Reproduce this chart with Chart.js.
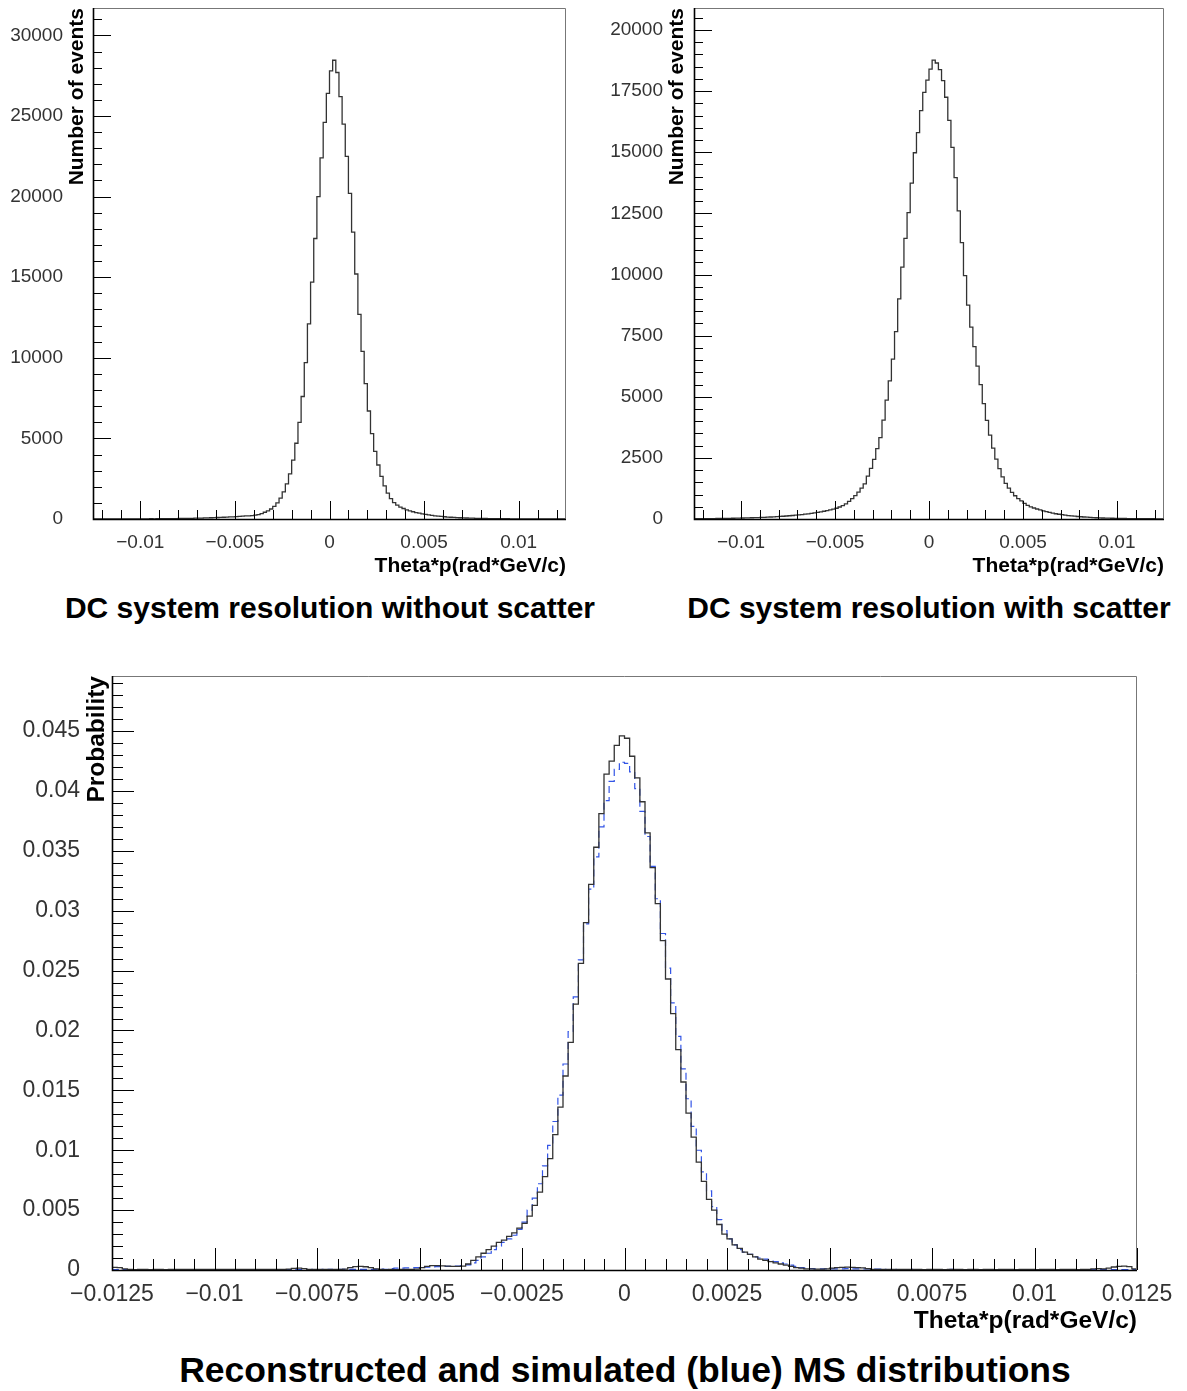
<!DOCTYPE html>
<html>
<head>
<meta charset="utf-8">
<script src="https://cdn.jsdelivr.net/npm/chart.js@4.4.1/dist/chart.umd.min.js"></script>
<style>
  body { margin: 0; background: #fff; width: 1187px; height: 1391px; position: relative; overflow: hidden; }
  .box { position: absolute; }
  .title { position: absolute; transform: translateX(-50%); white-space: nowrap;
           font-family: 'Liberation Sans', Arial, sans-serif; font-weight: bold; color: #000; }
</style>
</head>
<body>
<div class="box" style="left:0;top:0;width:590px;height:579px"><canvas id="chart-noscatter"></canvas></div>
<div class="box" style="left:597px;top:0;width:590px;height:579px"><canvas id="chart-scatter"></canvas></div>
<div class="box" style="left:0;top:640px;width:1187px;height:696px"><canvas id="chart-ms"></canvas></div>
<div class="title" style="left:330px;top:590px;font-size:30px;line-height:36px">DC system resolution without scatter</div>
<div class="title" style="left:929px;top:590px;font-size:30px;line-height:36px">DC system resolution with scatter</div>
<div class="title" style="left:625px;top:1349px;font-size:35.5px;line-height:42px">Reconstructed and simulated (blue) MS distributions</div>
<script>
// x range shared by all three histograms
const X_MIN = -0.0125;
const X_MAX = 0.0125;

// tick labels
const xTicksTop = [-0.01, -0.005, 0, 0.005, 0.01];
const yTicksNoScatter = [0, 5000, 10000, 15000, 20000, 25000, 30000];
const yTicksScatter = [0, 2500, 5000, 7500, 10000, 12500, 15000, 17500, 20000];
const xTicksMS = [-0.0125, -0.01, -0.0075, -0.005, -0.0025, 0, 0.0025, 0.005, 0.0075, 0.01, 0.0125];
const yTicksMS = [0, 0.005, 0.01, 0.015, 0.02, 0.025, 0.03, 0.035, 0.04, 0.045];

// DC resolution without scatter, 150 bins (number of events)
const noScatter = [
	2, 0, 3, 2, 4, 3, 5, 4, 6, 5,
	7, 8, 6, 9, 10, 9, 12, 11, 14, 13,
	16, 18, 17, 21, 22, 25, 27, 30, 33, 36,
	40, 44, 50, 55, 60, 66, 72, 78, 85, 92,
	100, 108, 117, 127, 138, 150, 163, 177, 191, 200,
	215, 240, 275, 335, 420, 500, 620, 780, 1000, 1300,
	1680, 2180, 2800, 3650, 4700, 6000, 7600, 9700, 12100, 14700,
	17400, 20000, 22400, 24600, 26400, 27800, 28460, 27700, 26200, 24500,
	22500, 20200, 17800, 15200, 12700, 10400, 8400, 6700, 5300, 4200,
	3350, 2650, 2050, 1600, 1260, 1020, 860, 740, 650, 570,
	500, 450, 400, 360, 320, 290, 260, 230, 200, 180,
	160, 140, 122, 110, 98, 88, 78, 70, 62, 55,
	49, 44, 40, 35, 31, 28, 25, 22, 20, 18,
	16, 14, 12, 11, 10, 9, 8, 7, 6, 6,
	5, 4, 4, 3, 3, 2, 2, 1, 1, 1
];

// DC resolution with scatter, 150 bins (number of events)
const withScatter = [
	10, 12, 11, 14, 15, 17, 18, 20, 22, 24,
	26, 28, 31, 34, 37, 40, 44, 48, 52, 56,
	60, 65, 70, 76, 82, 89, 96, 104, 113, 122,
	132, 143, 155, 168, 182, 197, 213, 230, 250, 270,
	292, 316, 342, 370, 400, 440, 490, 550, 620, 720,
	830, 960, 1100, 1260, 1440, 1750, 2070, 2440, 2880, 3330,
	4040, 4860, 5650, 6540, 7660, 9000, 10300, 11480, 12530, 13740,
	14980, 15800, 16700, 17450, 17950, 18400, 18770, 18650, 18380, 17930,
	17250, 16300, 15200, 13960, 12600, 11300, 9950, 8750, 7850, 7050,
	6250, 5500, 4720, 4030, 3430, 2900, 2450, 2060, 1720, 1460,
	1260, 1090, 950, 830, 740, 640, 560, 500, 450, 410,
	370, 335, 300, 270, 240, 215, 195, 175, 158, 142,
	128, 115, 103, 92, 82, 73, 65, 58, 52, 46,
	41, 37, 33, 30, 27, 24, 22, 20, 18, 16,
	15, 14, 13, 12, 11, 10, 10, 9, 9, 8
];

// reconstructed MS distribution, 200 bins (probability)
const reconstructed = [
	0.00022, 0.0002, 0.0001, 0.00004, 0.00003, 0.00005, 0.00004, 0.00003, 0.00005, 0.00004,
	0.00003, 0.00005, 0.00006, 0.00004, 0.00005, 0.00004, 0.00006, 0.00005, 0.00004, 0.00006,
	0.00005, 0.00004, 0.00006, 0.00005, 0.00004, 0.00005, 0.00006, 0.00004, 0.00005, 0.00006,
	0.00005, 0.00004, 0.00006, 0.00005, 0.00008, 0.00013, 0.00015, 0.00012, 0.00005, 0.00004,
	0.00005, 0.00004, 0.00006, 0.00005, 0.00004, 0.00008, 0.0002, 0.00028, 0.0003, 0.00027,
	0.0002, 0.0001, 0.00004, 0.00003, 0.00004, 0.00003, 0.00004, 0.00005, 0.00004, 0.00008,
	0.0002, 0.0003, 0.00036, 0.00036, 0.00034, 0.00032, 0.0003, 0.0003, 0.00032, 0.0005,
	0.0008, 0.0011, 0.0014, 0.0017, 0.002, 0.0023, 0.0025, 0.0028, 0.0031, 0.0035,
	0.0039, 0.0045, 0.0054, 0.0065, 0.0078, 0.0093, 0.0113, 0.0136, 0.0162, 0.019,
	0.0222, 0.0256, 0.029, 0.0322, 0.0353, 0.0381, 0.0414, 0.0425, 0.0438, 0.0446,
	0.0444, 0.0429, 0.0411, 0.0391, 0.0365, 0.0336, 0.0306, 0.0275, 0.0243, 0.0214,
	0.0184, 0.0157, 0.0131, 0.0111, 0.009, 0.0074, 0.0059, 0.005, 0.0038, 0.003,
	0.0026, 0.0021, 0.0018, 0.0015, 0.0013, 0.0011, 0.0009, 0.0008, 0.0007, 0.0006,
	0.0005, 0.0004, 0.0003, 0.0002, 0.00015, 0.0001, 0.0001, 0.00008, 0.00008, 0.0001,
	0.00015, 0.0002, 0.00022, 0.00024, 0.00022, 0.0002, 0.00018, 0.00012, 0.00006, 0.00005,
	0.00004, 0.00005, 0.00004, 0.00006, 0.00005, 0.00004, 0.00005, 0.00004, 0.00003, 0.00005,
	0.00004, 0.00005, 0.00003, 0.00004, 0.00005, 0.00004, 0.00003, 0.00005, 0.00004, 0.00003,
	0.00005, 0.00004, 0.00003, 0.00004, 0.00005, 0.00004, 0.00003, 0.00004, 0.00005, 0.00004,
	0.00003, 0.00004, 0.00005, 0.00004, 0.00003, 0.00004, 0.00005, 0.00004, 0.00003, 0.00005,
	0.00006, 0.0001, 0.00012, 0.0001, 0.00015, 0.00025, 0.0003, 0.00032, 0.00028, 0.0001
];

// simulated MS distribution (blue), 200 bins (probability)
const simulated = [
	0.00004, 0.00003, 0.00004, 0.00003, 0.00004, 0.00003, 0.00004, 0.00003, 0.00004, 0.00003,
	0.00004, 0.00003, 0.00004, 0.00003, 0.00004, 0.00004, 0.00003, 0.00004, 0.00003, 0.00004,
	0.00003, 0.00004, 0.00004, 0.00003, 0.00004, 0.00003, 0.00004, 0.00003, 0.00004, 0.00004,
	0.00003, 0.00004, 0.00003, 0.00004, 0.00004, 0.00005, 0.00004, 0.00005, 0.00004, 0.00005,
	0.00004, 0.00005, 0.00005, 0.00004, 0.00005, 0.00005, 0.00006, 0.00005, 0.00006, 0.00006,
	0.00005, 0.00006, 0.00007, 0.00006, 0.00012, 0.00015, 0.00016, 0.00017, 0.00018, 0.0002,
	0.00022, 0.00024, 0.00026, 0.00028, 0.0003, 0.0003, 0.00031, 0.00033, 0.00036, 0.00042,
	0.0006, 0.0008, 0.0011, 0.0014, 0.0017, 0.002, 0.0023, 0.0026, 0.0029, 0.0034,
	0.004, 0.005, 0.006, 0.0072, 0.0087, 0.0104, 0.0124, 0.0146, 0.0172, 0.0199,
	0.0228, 0.0259, 0.0289, 0.0318, 0.0345, 0.037, 0.0392, 0.0408, 0.0418, 0.0424,
	0.0423, 0.0416, 0.0402, 0.0383, 0.0362, 0.0337, 0.031, 0.0281, 0.0252, 0.0223,
	0.0195, 0.0168, 0.0143, 0.012, 0.01, 0.0082, 0.0066, 0.0053, 0.0042, 0.0033,
	0.0026, 0.0021, 0.0017, 0.0015, 0.0013, 0.0011, 0.001, 0.0009, 0.0008, 0.0007,
	0.0006, 0.0005, 0.0004, 0.0003, 0.0002, 0.00015, 0.00012, 0.0001, 0.0001, 0.0001,
	0.0001, 0.0001, 0.0001, 0.00012, 0.0001, 0.0001, 0.0001, 0.00009, 0.00008, 0.00007,
	0.00005, 0.00004, 0.00005, 0.00004, 0.00003, 0.00004, 0.00005, 0.00004, 0.00003, 0.00004,
	0.00004, 0.00003, 0.00004, 0.00005, 0.00004, 0.00003, 0.00004, 0.00003, 0.00004, 0.00003,
	0.00004, 0.00003, 0.00004, 0.00003, 0.00004, 0.00004, 0.00003, 0.00004, 0.00003, 0.00004,
	0.00003, 0.00004, 0.00003, 0.00004, 0.00003, 0.00004, 0.00003, 0.00004, 0.00003, 0.00004,
	0.00004, 0.00003, 0.00004, 0.00003, 0.00004, 0.00003, 0.00004, 0.00003, 0.00004, 0.00003
];

const FONT = "'Liberation Sans', Arial, sans-serif";

// bin low edges + closing edge; 'before' keeps each value on its own bin
function histPoints(values) {
	const w = (X_MAX - X_MIN) / values.length;
	const pts = values.map((v, i) => ({x: X_MIN + i * w, y: v}));
	pts.push({x: X_MAX, y: values[values.length - 1]});
	return pts;
}

function fmt(v, digits) {
	return String(Number(v.toFixed(digits))).replace('-', '\u2212');
}

// ROOT style frame with ticks pointing inside
const rootFrame = {
	id: 'rootFrame',
	afterDatasetsDraw(chart, args, o) {
		const {ctx, chartArea: a, scales: {x, y}} = chart;
		ctx.save();
		ctx.strokeStyle = '#777';
		ctx.lineWidth = 1;
		ctx.beginPath();
		ctx.moveTo(a.left, a.top + 0.5);
		ctx.lineTo(a.right - 0.5, a.top + 0.5);
		ctx.lineTo(a.right - 0.5, a.bottom);
		ctx.stroke();

		ctx.strokeStyle = '#000';
		ctx.beginPath();
		for (let i = Math.ceil(x.min / o.xMinor - 1e-6); i * o.xMinor <= x.max + 1e-9; i++) {
			const v = i * o.xMinor;
			const q = v / o.xMajor;
			const len = Math.abs(q - Math.round(q)) < 1e-6 ? o.major : o.minor;
			const px = Math.round(x.getPixelForValue(v)) + 0.5;
			ctx.moveTo(px, a.bottom);
			ctx.lineTo(px, a.bottom - len);
		}
		for (let i = 0; i * o.yMinor <= y.max + 1e-12; i++) {
			const v = i * o.yMinor;
			const q = v / o.yMajor;
			const len = Math.abs(q - Math.round(q)) < 1e-6 ? o.major : o.minor;
			const py = Math.round(y.getPixelForValue(v)) + 0.5;
			ctx.moveTo(a.left, py);
			ctx.lineTo(a.left + len, py);
		}
		ctx.stroke();

		ctx.lineWidth = 1.6;
		ctx.beginPath();
		ctx.moveTo(a.left + 0.5, a.top);
		ctx.lineTo(a.left + 0.5, a.bottom + 0.5);
		ctx.lineTo(a.right, a.bottom + 0.5);
		ctx.stroke();
		ctx.restore();
	}
};

function histConfig(p) {
	return {
		type: 'line',
		data: {datasets: p.datasets},
		options: {
			responsive: true,
			maintainAspectRatio: false,
			animation: false,
			events: [],
			layout: {padding: p.padding},
			plugins: {
				legend: {display: false},
				tooltip: {enabled: false},
				rootFrame: p.frame
			},
			scales: {
				x: {
					type: 'linear',
					min: X_MIN,
					max: X_MAX,
					grid: {display: false, tickLength: p.xPad},
					border: {display: false},
					afterBuildTicks: s => { s.ticks = p.xTicks.map(v => ({value: v})); },
					afterFit: s => { s.height = p.xHeight; },
					ticks: {
						autoSkip: false,
						maxRotation: 0,
						padding: 0,
						color: '#333',
						font: {family: FONT, size: p.tickSize},
						callback: v => fmt(v, 5)
					},
					title: {
						display: true,
						text: 'Theta*p(rad*GeV/c)',
						align: 'end',
						color: '#000',
						padding: {top: 0, bottom: 0},
						font: {family: FONT, size: p.axisSize, weight: 'bold'}
					}
				},
				y: {
					min: 0,
					max: p.yMax,
					grid: {display: false, tickLength: p.yPad},
					border: {display: false},
					afterBuildTicks: s => { s.ticks = p.yTicks.map(v => ({value: v})); },
					afterFit: s => { s.width = p.yWidth; },
					ticks: {
						autoSkip: false,
						padding: 0,
						color: '#333',
						font: {family: FONT, size: p.tickSize, lineHeight: 0.8},
						callback: v => fmt(v, 4)
					},
					title: {
						display: true,
						text: p.yTitle,
						align: 'end',
						color: '#000',
						padding: {top: p.yTitlePad, bottom: 0},
						font: {family: FONT, size: p.axisSize, weight: 'bold'}
					}
				}
			}
		},
		plugins: [rootFrame]
	};
}

function blackHist(values) {
	return {data: histPoints(values), stepped: 'before', borderColor: '#333', borderWidth: 1.3, pointRadius: 0, fill: false};
}

document.addEventListener('DOMContentLoaded', () => {
	new Chart(document.getElementById('chart-noscatter'), histConfig({
		datasets: [blackHist(noScatter)],
		padding: {top: 8, right: 24, left: 0, bottom: 0},
		yWidth: 93, xHeight: 60, yMax: 31700,
		xTicks: xTicksTop, yTicks: yTicksNoScatter,
		yTitle: 'Number of events', yTitlePad: 65,
		xPad: 12, yPad: 30, tickSize: 19, axisSize: 21,
		frame: {xMajor: 0.005, xMinor: 0.001, yMajor: 5000, yMinor: 1000, major: 18, minor: 9}
	}));

	new Chart(document.getElementById('chart-scatter'), histConfig({
		datasets: [blackHist(withScatter)],
		padding: {top: 8, right: 23, left: 0, bottom: 0},
		yWidth: 97, xHeight: 60, yMax: 20900,
		xTicks: xTicksTop, yTicks: yTicksScatter,
		yTitle: 'Number of events', yTitlePad: 68,
		xPad: 12, yPad: 31, tickSize: 19, axisSize: 21,
		frame: {xMajor: 0.005, xMinor: 0.001, yMajor: 2500, yMinor: 500, major: 18, minor: 9}
	}));

	new Chart(document.getElementById('chart-ms'), histConfig({
		datasets: [
			blackHist(reconstructed),
			{data: histPoints(simulated), stepped: 'before', borderColor: '#3355e6', borderWidth: 1.2,
			 borderDash: [7, 4], pointRadius: 0, fill: false}
		],
		padding: {top: 36, right: 50, left: 0, bottom: 0},
		yWidth: 112, xHeight: 66, yMax: 0.0496,
		xTicks: xTicksMS, yTicks: yTicksMS,
		yTitle: 'Probability', yTitlePad: 83,
		xPad: 11, yPad: 32, tickSize: 23, axisSize: 24.5,
		frame: {xMajor: 0.0025, xMinor: 0.0005, yMajor: 0.005, yMinor: 0.001, major: 22, minor: 11}
	}));
});
</script>
</body>
</html>
